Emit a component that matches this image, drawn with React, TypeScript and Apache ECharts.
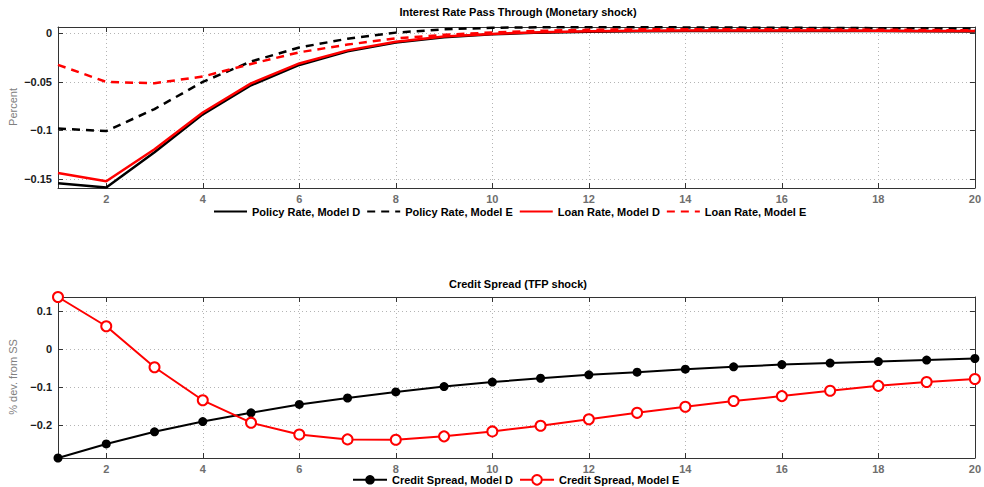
import React, { useEffect, useRef } from "react";
import * as echarts from "echarts";

const periods = [1, 2, 3, 4, 5, 6, 7, 8, 9, 10, 11, 12, 13, 14, 15, 16, 17, 18, 19, 20];
const xTicks = [2, 4, 6, 8, 10, 12, 14, 16, 18, 20];

// Top panel: Interest Rate Pass Through (Monetary shock)
const topTitle = "Interest Rate Pass Through (Monetary shock)";
const topYName = "Percent";
const topYTicks = [-0.15, -0.1, -0.05, 0];
const topYMin = -0.1594;
const topYMax = 0.0066;
const policyD = [-0.1546, -0.159, -0.1225, -0.0835, -0.0535, -0.0325, -0.0185, -0.0095, -0.004, -0.001, 0.0008, 0.0018, 0.0023, 0.0025, 0.0026, 0.0026, 0.0025, 0.0024, 0.0022, 0.002];
const policyE = [-0.098, -0.1007, -0.078, -0.05, -0.029, -0.0145, -0.0055, 0.0008, 0.0042, 0.0058, 0.0063, 0.0064, 0.0063, 0.0062, 0.006, 0.0058, 0.0056, 0.0054, 0.0052, 0.005];
const loanD = [-0.144, -0.1525, -0.1195, -0.0815, -0.0515, -0.031, -0.0175, -0.0085, -0.0032, -0.0005, 0.0012, 0.0022, 0.0027, 0.0029, 0.003, 0.003, 0.0029, 0.0028, 0.0026, 0.0024];
const loanE = [-0.0324, -0.05, -0.0514, -0.0445, -0.0315, -0.0195, -0.0115, -0.0052, -0.0015, 0.001, 0.0027, 0.0037, 0.0042, 0.0044, 0.0044, 0.0043, 0.0041, 0.0038, 0.0035, 0.0031];
const topNames = ["Policy Rate, Model D", "Policy Rate, Model E", "Loan Rate, Model D", "Loan Rate, Model E"];

// Bottom panel: Credit Spread (TFP shock)
const bottomTitle = "Credit Spread (TFP shock)";
const bottomYName = "% dev. from SS";
const bottomYTicks = [-0.2, -0.1, 0, 0.1];
const bottomYMin = -0.287;
const bottomYMax = 0.137;
const spreadD = [-0.287, -0.25, -0.218, -0.191, -0.168, -0.146, -0.129, -0.113, -0.099, -0.087, -0.077, -0.068, -0.061, -0.053, -0.047, -0.041, -0.037, -0.033, -0.029, -0.025];
const spreadE = [0.137, 0.06, -0.048, -0.135, -0.194, -0.225, -0.238, -0.239, -0.23, -0.217, -0.202, -0.185, -0.168, -0.152, -0.137, -0.124, -0.11, -0.097, -0.087, -0.079];
const bottomNames = ["Credit Spread, Model D", "Credit Spread, Model E"];

const FONT = "'Liberation Sans', Arial, Helvetica, sans-serif";
const AXIS = "#333333";
const GRIDC = "#b4b4b4";

const fmt = (v: number) => (v === 0 ? "0" : String(v).replace("-", "\u2212"));
const pairs = (ys: number[]) => periods.map((p, i) => [p, ys[i]]);

function xAxes(gi: number) {
  const base = {
    type: "value" as const,
    gridIndex: gi,
    min: 1,
    max: 20,
    axisLine: { show: true, onZero: false, lineStyle: { color: AXIS, width: 1 } },
    axisTick: { show: true, inside: true, length: 5, customValues: xTicks, lineStyle: { color: AXIS } },
  };
  return [
    {
      ...base,
      position: "bottom",
      axisLabel: { customValues: xTicks, color: "#6e6e6e", fontWeight: "bold", fontSize: 11, fontFamily: FONT, margin: 5 },
      splitLine: { show: true, lineStyle: { color: GRIDC, type: [1, 3], width: 1 } },
    },
    {
      ...base,
      position: "top",
      axisLabel: { show: false },
      splitLine: { show: false },
    },
  ];
}

function yAxes(gi: number, min: number, max: number, ticks: number[]) {
  const base = {
    type: "value" as const,
    gridIndex: gi,
    min,
    max,
    axisLine: { show: true, onZero: false, lineStyle: { color: AXIS, width: 1 } },
    axisTick: { show: true, inside: true, length: 5, customValues: ticks, lineStyle: { color: AXIS } },
  };
  return [
    {
      ...base,
      position: "left",
      axisLabel: { customValues: ticks, formatter: fmt, color: "#1a1a1a", fontWeight: "bold", fontSize: 11, fontFamily: FONT, margin: 6 },
      splitLine: { show: true, lineStyle: { color: GRIDC, type: [1, 3], width: 1 } },
    },
    {
      ...base,
      position: "right",
      axisLabel: { show: false },
      splitLine: { show: false },
    },
  ];
}

function buildOption() {
  return {
    animation: false,
    backgroundColor: "#ffffff",
    grid: [
      { left: 58, top: 27, width: 921, height: 161, containLabel: false },
      { left: 58, top: 297, width: 921, height: 161, containLabel: false },
    ],
    xAxis: [...xAxes(0), ...xAxes(1)],
    yAxis: [
      ...yAxes(0, topYMin, topYMax, topYTicks),
      ...yAxes(1, bottomYMin, bottomYMax, bottomYTicks),
    ],
    legend: [
      {
        data: topNames,
        left: 213,
        top: 206,
        orient: "horizontal",
        itemWidth: 33,
        itemHeight: 14,
        itemGap: 6,
        padding: 0,
        itemStyle: { opacity: 0 },
        textStyle: { color: "#000", fontWeight: "bold", fontSize: 11, fontFamily: FONT },
      },
      {
        data: bottomNames,
        left: 352,
        top: 474,
        orient: "horizontal",
        itemWidth: 34,
        itemHeight: 12,
        itemGap: 6,
        padding: 0,
        textStyle: { color: "#000", fontWeight: "bold", fontSize: 11, fontFamily: FONT },
      },
    ],
    graphic: [
      { type: "text", x: 518, y: 12, style: { text: topTitle, font: `bold 11px ${FONT}`, fill: "#000", align: "center", verticalAlign: "middle" } },
      { type: "text", x: 518, y: 284, style: { text: bottomTitle, font: `bold 11px ${FONT}`, fill: "#000", align: "center", verticalAlign: "middle" } },
      { type: "text", x: 13, y: 107, rotation: Math.PI / 2, style: { text: topYName, font: `11px ${FONT}`, fill: "#808080", align: "center", verticalAlign: "middle" } },
      { type: "text", x: 13, y: 377, rotation: Math.PI / 2, style: { text: bottomYName, font: `11px ${FONT}`, fill: "#808080", align: "center", verticalAlign: "middle" } },
    ],
    series: [
      { type: "line", name: topNames[0], xAxisIndex: 0, yAxisIndex: 0, data: pairs(policyD), symbol: "none", color: "#000", lineStyle: { color: "#000", width: 2.5 } },
      { type: "line", name: topNames[1], xAxisIndex: 0, yAxisIndex: 0, data: pairs(policyE), symbol: "none", color: "#000", lineStyle: { color: "#000", width: 2.5, type: [8, 6] } },
      { type: "line", name: topNames[2], xAxisIndex: 0, yAxisIndex: 0, data: pairs(loanD), symbol: "none", color: "#ff0000", lineStyle: { color: "#ff0000", width: 2.5 } },
      { type: "line", name: topNames[3], xAxisIndex: 0, yAxisIndex: 0, data: pairs(loanE), symbol: "none", color: "#ff0000", lineStyle: { color: "#ff0000", width: 2.5, type: [8, 6] } },
      { type: "line", name: bottomNames[0], xAxisIndex: 2, yAxisIndex: 2, data: pairs(spreadD), symbol: "circle", symbolSize: 9, color: "#000", itemStyle: { color: "#000" }, lineStyle: { color: "#000", width: 2 } },
      { type: "line", name: bottomNames[1], xAxisIndex: 2, yAxisIndex: 2, data: pairs(spreadE), symbol: "emptyCircle", symbolSize: 10, color: "#ff0000", itemStyle: { color: "#ff0000", borderWidth: 2 }, lineStyle: { color: "#ff0000", width: 2 } },
    ],
  };
}

export default function App() {
  const ref = useRef<HTMLDivElement>(null);
  useEffect(() => {
    document.body.style.margin = "0";
    if (!ref.current) return;
    const chart = echarts.init(ref.current, null, { renderer: "svg" });
    chart.setOption(buildOption() as any);
    return () => chart.dispose();
  }, []);
  return <div ref={ref} style={{ width: 984, height: 487 }} />;
}
